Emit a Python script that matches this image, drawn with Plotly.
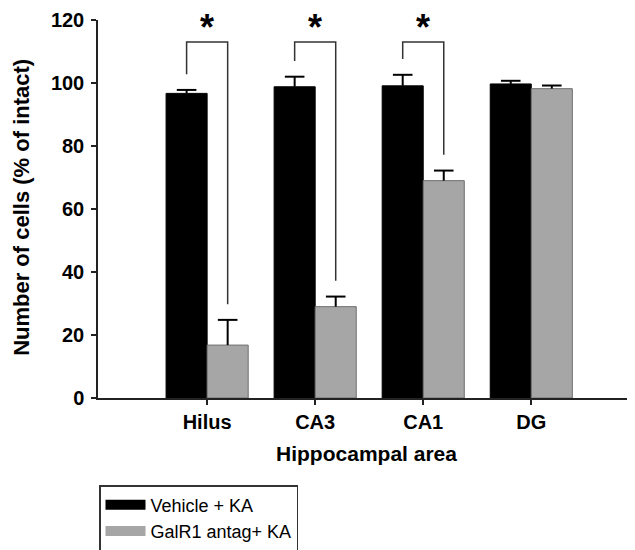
import plotly.graph_objects as go

categories = ["Hilus", "CA3", "CA1", "DG"]
vehicle = [96.7, 98.8, 99.1, 99.7]
vehicle_err = [1.1, 3.2, 3.5, 1.0]
galr1 = [16.8, 29.0, 69.0, 98.2]
galr1_err = [8.0, 3.2, 3.2, 1.0]
significant = [True, True, True, False]
y_ticks = [0, 20, 40, 60, 80, 100, 120]

names = ["Vehicle + KA", "GalR1 antag+ KA"]
colors = ["#000000", "#A6A6A6"]
edges = ["#000000", "#6E6E6E"]
x_title = "Hippocampal area"
y_title = "Number of cells (% of intact)"

FONT = "Arial, Liberation Sans, sans-serif"
bar_w = 0.38
pos = list(range(len(categories)))

fig = go.Figure()
series = [
    (vehicle, vehicle_err, -bar_w, -bar_w / 2, names[0], colors[0], edges[0]),
    (galr1, galr1_err, 0, bar_w / 2, names[1], colors[1], edges[1]),
]
for vals, errs, off, ctr, name, col, edge in series:
    fig.add_trace(go.Bar(
        x=pos, y=vals, name=name, width=bar_w, offset=off, showlegend=False,
        marker=dict(color=col, line=dict(color=edge, width=1)), hoverinfo="skip",
    ))

# upward-only error bars (stem + cap)
for vals, errs, off, ctr, name, col, edge in series:
    sx, sy = [], []
    for p, v, e in zip(pos, vals, errs):
        sx += [p + ctr, p + ctr, None]
        sy += [v, v + e, None]
    fig.add_trace(go.Scatter(
        x=sx, y=sy, mode="lines", line=dict(color="#000000", width=2),
        showlegend=False, hoverinfo="skip",
    ))
    fig.add_trace(go.Scatter(
        x=[p + ctr for p in pos], y=[v + e for v, e in zip(vals, errs)], mode="markers",
        marker=dict(symbol="line-ew", size=14, line=dict(color="#000000", width=2)),
        showlegend=False, hoverinfo="skip",
    ))

# legend entries with wide swatches
for name, col in zip(names, colors):
    fig.add_trace(go.Scatter(
        x=[None], y=[None], mode="lines", name=name,
        line=dict(color=col, width=11), showlegend=True, hoverinfo="skip",
    ))

# significance brackets
top = 113
gap = 5
for i, sig in enumerate(significant):
    if not sig:
        continue
    xl = pos[i] - bar_w / 2
    xr = pos[i] + bar_w / 2
    yl = vehicle[i] + vehicle_err[i] + gap
    yr = galr1[i] + galr1_err[i] + gap
    fig.add_trace(go.Scatter(
        x=[xl, xl, xr, xr], y=[yl, top, top, yr], mode="lines",
        line=dict(color="#333333", width=1.5), showlegend=False, hoverinfo="skip",
    ))
    fig.add_annotation(x=pos[i], y=top, text="<b>*</b>", showarrow=False,
                       yanchor="bottom", yshift=-8, font=dict(size=36, color="#000000", family=FONT))

# y-axis title
fig.add_annotation(xref="paper", yref="paper", x=(14 - 90) / 537, y=0.503,
                   text="<b>%s</b>" % y_title, textangle=-90, showarrow=False,
                   xanchor="center", yanchor="middle",
                   font=dict(size=22, family=FONT, color="#000000"))

fig.update_layout(
    width=635, height=550,
    margin=dict(l=90, r=8, t=12, b=160, autoexpand=False),
    paper_bgcolor="white", plot_bgcolor="white",
    barmode="overlay", hovermode=False,
    font=dict(family=FONT, color="#000000"),
    xaxis=dict(
        range=[-1.01, 3.96], tickvals=pos, ticktext=["<b>%s</b>" % c for c in categories],
        ticks="outside", ticklen=5, tickcolor="#222222", tickwidth=1.5,
        showline=True, linecolor="#222222", linewidth=1.5, showgrid=False, zeroline=False,
        tickfont=dict(size=20, family=FONT, color="#000000"),
        title=dict(text="<b>%s</b>" % x_title, font=dict(size=21, family=FONT)),
    ),
    yaxis=dict(
        range=[0, 120], tickvals=y_ticks, ticktext=["<b>%d</b>" % t for t in y_ticks],
        ticks="outside", ticklen=5, tickcolor="#222222", tickwidth=1.5,
        showline=True, linecolor="#222222", linewidth=1.5, showgrid=False, zeroline=False,
        tickfont=dict(size=20, family=FONT, color="#000000"), ticklabelstandoff=3,
    ),
    legend=dict(
        x=91 / 635, y=1 - 477 / 550, xref="container", yref="container",
        xanchor="left", yanchor="top",
        bordercolor="#333333", borderwidth=1.5, bgcolor="white",
        font=dict(size=18, family=FONT, color="#000000"),
        traceorder="normal", itemwidth=40, tracegroupgap=0,
    ),
)

fig.write_html("out.html")
